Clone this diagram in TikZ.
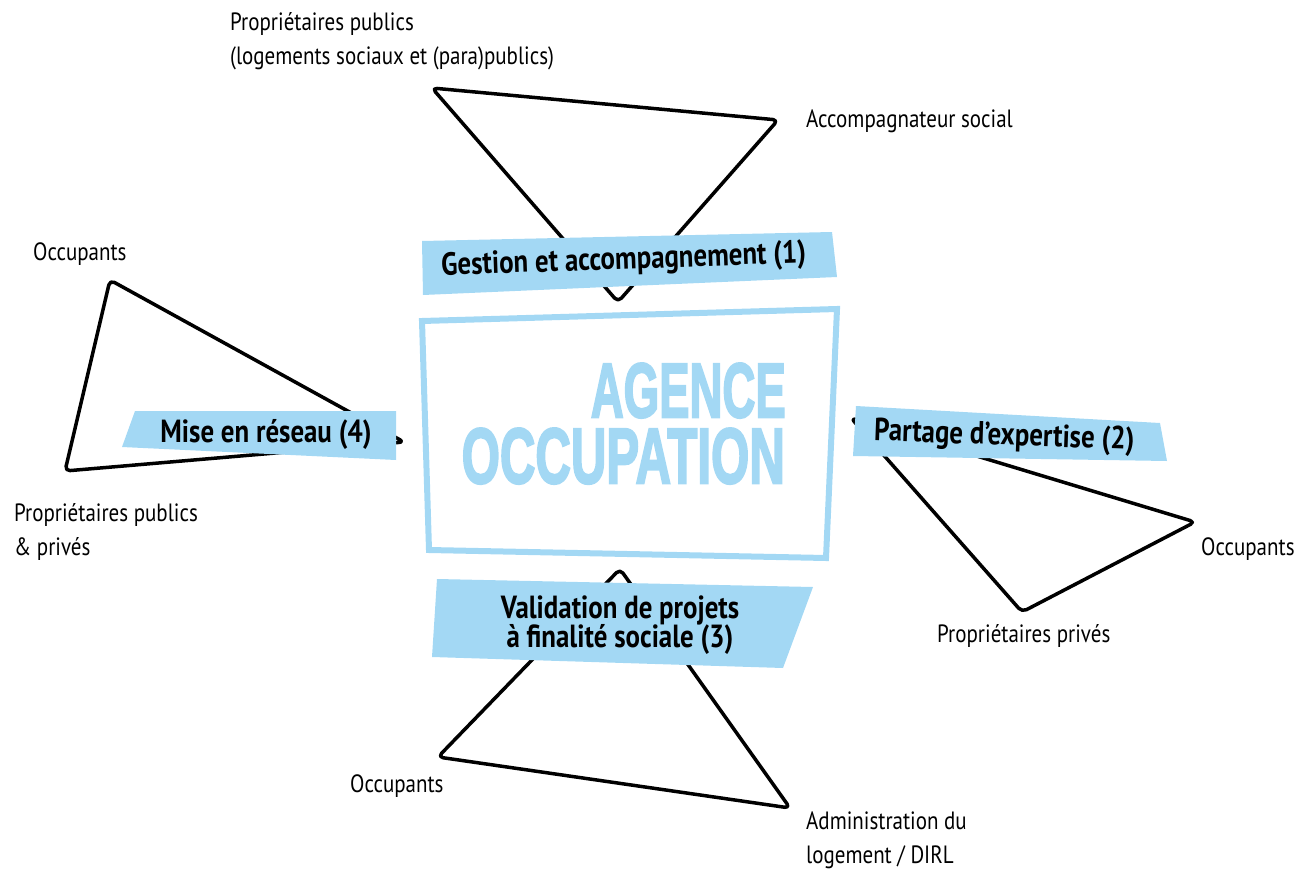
\documentclass[tikz,border=0pt]{standalone}
\usepackage{fontspec}
\setmainfont[FakeStretch=0.84]{PT Sans}
\newfontface\heavyfont[FakeBold=3]{Liberation Sans Bold}
\usepackage{graphicx}
\definecolor{agblue}{RGB}{163,216,244}
\begin{document}
\begin{tikzpicture}[x=1pt,y=-1pt,
  tri/.style={draw=black,line width=3.5pt,rounded corners=5pt,line join=round},
  lab/.style={fill=agblue,draw=none},
  labtext/.style={font=\fontsize{32}{30}\selectfont\bfseries,inner sep=0pt},
  txt/.style={font=\fontsize{25}{34}\selectfont,inner sep=0pt,align=left,anchor=base west}]
\useasboundingbox (0,0) rectangle (1299,870);
% triangle 1 (top)
\coordinate (a1) at (432,88);
\coordinate (b1) at (778,120);
\coordinate (c1) at (618,302);
\draw[tri] (a1) -- (b1) -- (c1) -- cycle;
% triangle 2 (right)
\coordinate (a2) at (851,418);
\coordinate (b2) at (1195,522);
\coordinate (c2) at (1022,612);
\draw[tri] (a2) -- (b2) -- (c2) -- cycle;
% triangle 3 (bottom)
\coordinate (a3) at (620,569);
\coordinate (b3) at (790,808);
\coordinate (c3) at (438,757);
\draw[tri] (a3) -- (b3) -- (c3) -- cycle;
% triangle 4 (left)
\coordinate (a4) at (110,280);
\coordinate (b4) at (404,442);
\coordinate (c4) at (65,471);
\draw[tri] (a4) -- (b4) -- (c4) -- cycle;
% central box
\coordinate (m1) at (422,321);
\coordinate (m2) at (837,309);
\coordinate (m3) at (826,558);
\coordinate (m4) at (429,550);
\draw[agblue,line width=6pt,line join=miter] (m1) -- (m2) -- (m3) -- (m4) -- cycle;
\node[inner sep=0pt,anchor=north east,text=agblue] (ag) at (786,363) {\resizebox{195pt}{54pt}{\heavyfont AGENCE}};
\node[inner sep=0pt,anchor=north east,text=agblue] (oc) at (785,428) {\resizebox{323pt}{55pt}{\heavyfont OCCUPATION}};
% label bands
\fill[lab] (422,241) -- (832,232) -- (837,277) -- (423,295) -- cycle;
\fill[lab] (856,406) -- (1160,423) -- (1167,461) -- (853,456) -- cycle;
\fill[lab] (437,579) -- (813,587) -- (783,668) -- (432,657) -- cycle;
\fill[lab] (135,411) -- (396,411) -- (396,460) -- (122,447) -- cycle;
\node[labtext,anchor=base,rotate=2] (l1) at (624,269) {Gestion et accompagnement (1)};
\node[labtext,anchor=base,rotate=-2] (l2) at (1004,445) {Partage d’expertise (2)};
\node[labtext,anchor=base,align=center] (l3) at (620,647) {Validation de projets\\[-1pt]à finalité sociale (3)};
\node[labtext,anchor=base] (l4) at (266,442) {Mise en réseau (4)};
% texts
\node[txt] (t1) at (230,64) {Propriétaires publics\\(logements sociaux et (para)publics)};
\node[txt] (t2) at (806,127) {Accompagnateur social};
\node[txt] (t3) at (33,260) {Occupants};
\node[txt] (t4) at (14,555) {Propriétaires publics\\\& privés};
\node[txt] (t5) at (1201,555) {Occupants};
\node[txt] (t6) at (937,642) {Propriétaires privés};
\node[txt] (t7) at (350,792) {Occupants};
\node[txt] (t8) at (806,863) {Administration du\\logement / DIRL};
\end{tikzpicture}
\end{document}
